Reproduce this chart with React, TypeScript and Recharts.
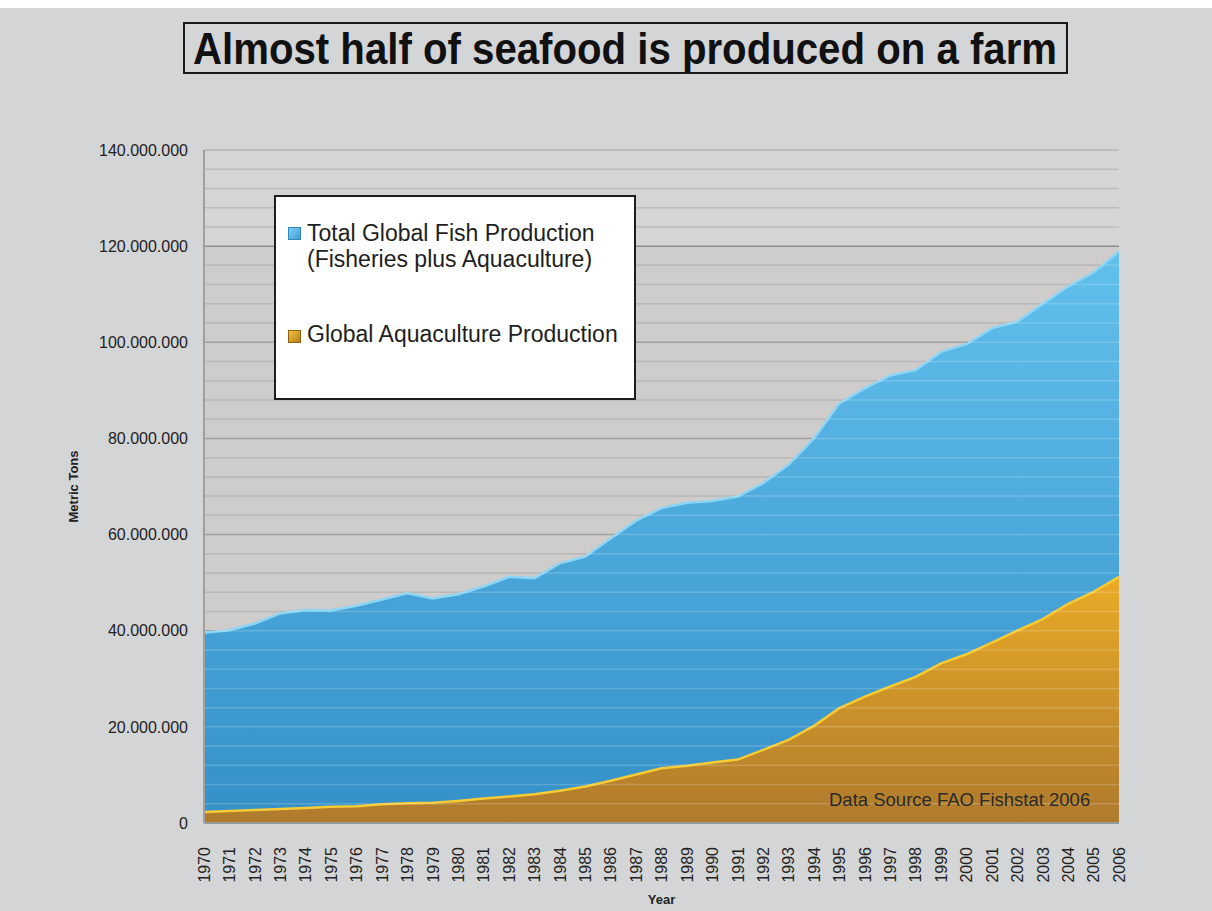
import React from 'react';
import { AreaChart, Area, XAxis, YAxis, ReferenceLine, ReferenceArea } from 'recharts';

const YEARS = [
  '1970', '1971', '1972', '1973', '1974', '1975', '1976', '1977', '1978', '1979',
  '1980', '1981', '1982', '1983', '1984', '1985', '1986', '1987', '1988', '1989',
  '1990', '1991', '1992', '1993', '1994', '1995', '1996', '1997', '1998', '1999',
  '2000', '2001', '2002', '2003', '2004', '2005', '2006',
];

// million metric tons
const TOTAL = [
  39.6, 40.1, 41.5, 43.6, 44.3, 44.2, 45.2, 46.5, 47.8, 46.7,
  47.6, 49.2, 51.2, 50.9, 54.0, 55.4, 59.2, 62.9, 65.5, 66.6,
  67.0, 67.9, 70.7, 74.5, 80.0, 87.3, 90.4, 93.1, 94.2, 98.0,
  99.6, 102.9, 104.3, 108.0, 111.6, 114.5, 118.9,
];

const AQUA = [
  2.3, 2.5, 2.7, 2.9, 3.1, 3.4, 3.5, 3.9, 4.1, 4.2,
  4.6, 5.1, 5.5, 6.0, 6.7, 7.6, 8.8, 10.1, 11.4, 11.9,
  12.6, 13.2, 15.2, 17.3, 20.2, 23.9, 26.3, 28.4, 30.4, 33.2,
  35.1, 37.5, 40.0, 42.4, 45.6, 48.1, 51.2,
];

const Y_TICKS = [0, 20, 40, 60, 80, 100, 120, 140];
const MINOR_LINES = [4, 8, 12, 16, 24, 28, 32, 36, 44, 48, 52, 56, 64, 68, 72, 76, 84, 88, 92, 96, 104, 108, 112, 116, 124, 128, 132, 136];
const OVERLAY_LINES = [4, 8, 12, 16, 20, 24, 28, 32, 36, 40, 44, 48, 52, 56, 60, 64, 68, 72, 76, 80, 84, 88, 92, 96, 100, 104, 108, 112, 116];

const data = YEARS.map((year, i) => ({ year, total: TOTAL[i], aqua: AQUA[i] }));

const FONT = '"Liberation Sans", Arial, sans-serif';
const PAGE_BG = '#d4d5d7';

const formatTons = (v: number) => (v === 0 ? '0' : `${v}.000.000`);

const YearTick = (props: any) => {
  const { x, y, payload } = props;
  return (
    <g transform={`translate(${x},${y})`}>
      <text transform="rotate(-90)" textAnchor="end" dy="0.36em" fontSize={16} fill="#222" fontFamily={FONT}>
        {payload.value}
      </text>
    </g>
  );
};

const LegendBox = () => (
  <div
    style={{
      position: 'absolute',
      left: 274,
      top: 195,
      boxSizing: 'border-box',
      width: 362,
      height: 205,
      background: '#fff',
      border: '2px solid #1e1e1e',
      fontFamily: FONT,
      fontSize: 23,
      lineHeight: '26px',
      color: '#1e1e1e',
    }}
  >
    <span style={{ position: 'absolute', left: 12, top: 30, width: 13, height: 13, boxSizing: 'border-box', background: 'linear-gradient(135deg,#7fd0f4,#3f9fd6)', border: '1px solid #2f86bd' }} />
    <div style={{ position: 'absolute', left: 31, top: 23, whiteSpace: 'nowrap' }}>
      Total Global Fish Production<br />(Fisheries plus Aquaculture)
    </div>
    <span style={{ position: 'absolute', left: 12, top: 133, width: 13, height: 13, boxSizing: 'border-box', background: 'linear-gradient(135deg,#f3c23c,#b5801f)', border: '1px solid #8e6314' }} />
    <div style={{ position: 'absolute', left: 31, top: 124, whiteSpace: 'nowrap' }}>Global Aquaculture Production</div>
  </div>
);

export default function App() {
  return (
    <div style={{ position: 'absolute', left: 0, top: 0, width: 1212, height: 911, background: PAGE_BG, fontFamily: FONT, overflow: 'hidden' }}>
      <div style={{ position: 'absolute', left: 0, top: 0, width: 1212, height: 8, background: '#fff' }} />

      <svg style={{ position: 'absolute', left: 183, top: 22, overflow: 'visible' }} width={885} height={60}>
        <rect x={1} y={1} width={883} height={50} fill="none" stroke="#1a1a1a" strokeWidth={2} />
        <text
          x={442}
          y={42}
          textAnchor="middle"
          fontSize={44}
          fontWeight="bold"
          fill="#111"
          fontFamily={'"Liberation Sans Narrow", "Liberation Sans", Arial, sans-serif'}
          textLength={864}
          lengthAdjust="spacingAndGlyphs"
        >
          Almost half of seafood is produced on a farm
        </text>
      </svg>

      <div style={{ position: 'absolute', left: 0, top: 0 }}>
        <AreaChart width={1212} height={911} data={data} margin={{ top: 150, right: 93, left: 84, bottom: 28 }}>
          <defs>
            <linearGradient id="blueFill" x1="0" y1="0" x2="0" y2="1">
              <stop offset="0%" stopColor="#62c0ed" />
              <stop offset="100%" stopColor="#3590c8" />
            </linearGradient>
            <linearGradient id="orangeFill" x1="0" y1="0" x2="0" y2="1">
              <stop offset="0%" stopColor="#eaab26" />
              <stop offset="100%" stopColor="#ae7a2d" />
            </linearGradient>
          </defs>
          <XAxis
            dataKey="year"
            interval={0}
            height={60}
            tickLine={false}
            tickSize={8}
            tickMargin={16}
            axisLine={{ stroke: '#9a9a9a', strokeWidth: 2 }}
            tick={<YearTick />}
            label={{ value: 'Year', position: 'insideBottom', offset: -21, fontSize: 13, fontWeight: 'bold', fill: '#222', fontFamily: FONT }}
          />
          <YAxis
            domain={[0, 140]}
            ticks={Y_TICKS}
            interval={0}
            width={120}
            tickLine={false}
            tickSize={8}
            tickMargin={8}
            tickFormatter={formatTons}
            axisLine={{ stroke: '#a0a0a0', strokeWidth: 2 }}
            tick={{ fontSize: 16, fill: '#222', fontFamily: FONT }}
            label={{ value: 'Metric Tons', angle: -90, position: 'insideLeft', offset: -11, fontSize: 13, fontWeight: 'bold', fill: '#222', fontFamily: FONT, style: { textAnchor: 'middle' } }}
          />
          <ReferenceArea y1={0} y2={120} fill="#cfcccc" fillOpacity={1} stroke="none" zIndex={-300} />
          {MINOR_LINES.map((v) => (
            <ReferenceLine key={`m${v}`} y={v} stroke={v > 120 ? '#bcbcbc' : '#aaaaaa'} strokeWidth={1.5} zIndex={-200} />
          ))}
          {Y_TICKS.filter((v) => v > 0).map((v) => (
            <ReferenceLine key={`M${v}`} y={v} stroke={v > 120 ? '#b4b4b4' : '#8e8e8e'} strokeWidth={1.5} zIndex={-200} />
          ))}
          <Area
            type="linear"
            dataKey="total"
            name="Total Global Fish Production (Fisheries plus Aquaculture)"
            stroke="#8cd5f5"
            strokeWidth={2.5}
            fill="url(#blueFill)"
            fillOpacity={1}
            isAnimationActive={false}
            dot={false}
            activeDot={false}
          />
          <Area
            type="linear"
            dataKey="aqua"
            name="Global Aquaculture Production"
            stroke="#f6cb35"
            strokeWidth={2.5}
            fill="url(#orangeFill)"
            fillOpacity={1}
            isAnimationActive={false}
            dot={false}
            activeDot={false}
          />
          {OVERLAY_LINES.map((v) => (
            <ReferenceLine key={`o${v}`} y={v} stroke="#ffffff" strokeOpacity={0.18} strokeWidth={1.5} zIndex={150} />
          ))}
        </AreaChart>
      </div>

      <LegendBox />

      <div style={{ position: 'absolute', left: 829, top: 790, fontSize: 18.5, lineHeight: '20px', color: '#2a2a2a', whiteSpace: 'nowrap' }}>
        Data Source FAO Fishstat 2006
      </div>
    </div>
  );
}
